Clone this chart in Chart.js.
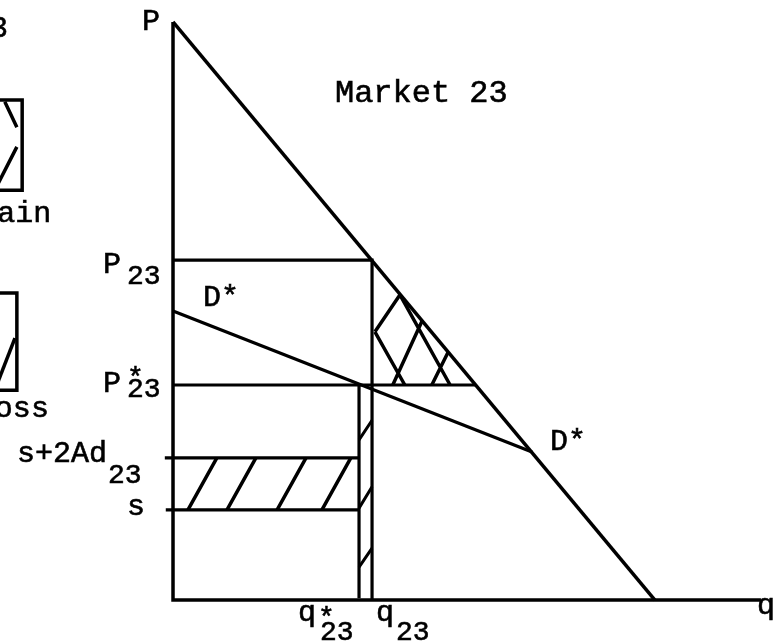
<!DOCTYPE html>
<html>
<head>
<meta charset="utf-8">
<script src="https://cdn.jsdelivr.net/npm/chart.js@4.4.0/dist/chart.umd.min.js"></script>
<style>
    html, body { margin: 0; padding: 0; background: #fff; }
    canvas { display: block; }
</style>
</head>
<body>
<canvas id="market" width="773" height="644"></canvas>
<script>
// Market 23 - demand curve, D* and the gain / loss areas

// curves (q, P)
const demandQ = [0, 100];
const demandP = [100, 0];
const dStarQ = [0, 74.5];
const dStarP = [50, 25.6];
const axisQEnd = 122;
const axisPEnd = 100;

// levels
const q23 = 41.3, p23 = 58.8;
const qStar = 38.6, pStar = 37.2;
const sLevel = 15.6, s2AdLevel = 24.6;
const pStarDemandQ = 62.8;

// hatching: loss rectangle (start q on the s line), strip between q* and q23, gain triangle
const lossHatchQ = [3.1, 11.2, 21.6, 30.9];
const lossHatchShift = 6.0;
const stripHatchLowP = [5.7, 15.9, 27.7];
const stripHatchHighP = [9.0, 19.6, 31.1];
const gainHatch = [
    [41.9, 46.4, 47.1, 52.8],
    [41.9, 46.4, 48.1, 37.2],
    [47.1, 52.8, 57.5, 37.2],
    [45.6, 37.2, 51.7, 48.3],
    [53.7, 37.2, 57.1, 42.9]
];

// the cut off key on the left side
const gainBox = [[-37, 86.5], [-31.3, 86.5], [-31.3, 70.9], [-37, 70.9]];
const gainBoxHatch = [[-34.9, 86.2, -32.4, 81.8], [-37, 70.9, -32.4, 78.4]];
const lossBox = [[-37, 53.1], [-32.4, 53.1], [-32.4, 36.3], [-37, 36.3]];
const lossBoxHatch = [[-37, 36.3, -32.8, 45.3]];

const INK = '#000';

function path(points, width) {
    return {
        data: points.map(p => ({ x: p[0], y: p[1] })),
        showLine: true,
        borderColor: INK,
        borderWidth: width || 3,
        pointRadius: 0,
        fill: false,
        tension: 0
    };
}

function segs(list, width) {
    const data = [];
    list.forEach((s, i) => {
        if (i) data.push({ x: null, y: null });
        data.push({ x: s[0], y: s[1] }, { x: s[2], y: s[3] });
    });
    return {
        data: data,
        showLine: true,
        spanGaps: false,
        borderColor: INK,
        borderWidth: width || 3,
        pointRadius: 0,
        fill: false
    };
}

const datasets = [
    path([[0, axisPEnd], [0, 0], [axisQEnd, 0]], 3.5),
    path(demandQ.map((q, i) => [q, demandP[i]]), 3.5),
    path(dStarQ.map((q, i) => [q, dStarP[i]]), 3.2),
    path([[0, p23], [q23, p23], [q23, 0]], 3.2),
    path([[0, pStar], [pStarDemandQ, pStar]], 3.2),
    path([[qStar, pStar], [qStar, 0.3]], 3.2),
    path([[-1.7, s2AdLevel], [qStar, s2AdLevel]], 3.2),
    path([[-1.5, sLevel], [qStar, sLevel]], 3.2),
    segs(lossHatchQ.map(q => [q, sLevel, q + lossHatchShift, s2AdLevel]), 3.5),
    segs(stripHatchLowP.map((p, i) => [qStar, p, q23, stripHatchHighP[i]]), 3),
    segs(gainHatch, 3.5),
    path(gainBox, 3.5),
    segs(gainBoxHatch, 3.5),
    path(lossBox, 3.5),
    segs(lossBoxHatch, 3.5)
];

// text labels, anchored at data points
const labels = [
    { text: 'P', q: 0, p: axisPEnd, dx: -31, dy: 8 },
    { text: 'Market 23', q: 33.6, p: 86.2, dx: 0, dy: 0, size: 32 },
    { text: 'P', sub: '23', q: 0, p: p23, dx: -70, dy: 13, subDx: -46, subDy: 24 },
    { text: 'P', sub: '23', sup: '*', q: 0, p: pStar, dx: -70, dy: 7, subDx: -46, subDy: 12, supDx: -46, supDy: 1 },
    { text: 'D*', q: dStarQ[0], p: dStarP[0], dx: 30, dy: -5 },
    { text: 'D*', q: dStarQ[1], p: dStarP[1], dx: 18, dy: -2 },
    { text: 's+2Ad', sub: '23', q: 0, p: s2AdLevel, right: -66, dy: 4, subDx: -65, subDy: 25 },
    { text: 's', q: 0, p: sLevel, dx: -46, dy: 5 },
    { text: 'q', sub: '23', sup: '*', q: qStar, p: 0, dx: -61, dy: 21, subDx: -39, subDy: 40, supDx: -41, supDy: 26 },
    { text: 'q', sub: '23', q: q23, p: 0, dx: 4, dy: 21, subDx: 24, subDy: 40 },
    { text: 'q', q: axisQEnd, p: 0, dx: -4, dy: 14 },
    { text: '3', q: -38, p: 97.4, dx: 0, dy: 0 },
    { text: 'Gain', q: -40.2, p: 65.4, dx: 0, dy: 0 },
    { text: 'Loss', q: -40.7, p: 31.7, dx: 0, dy: 0 }
];

const FONT = '"Liberation Mono", "Courier New", monospace';

const labelPlugin = {
    id: 'labels',
    afterDatasetsDraw(chart) {
        const ctx = chart.ctx;
        const xs = chart.scales.x, ys = chart.scales.y;
        ctx.save();
        ctx.fillStyle = INK;
        ctx.strokeStyle = INK;
        ctx.lineWidth = 0.6;
        ctx.textBaseline = 'alphabetic';
        ctx.textAlign = 'left';
        const put = (t, x, y) => { ctx.fillText(t, x, y); ctx.strokeText(t, x, y); };
        labels.forEach(l => {
            const ax = xs.getPixelForValue(l.q);
            const ay = ys.getPixelForValue(l.p);
            ctx.font = (l.size || 30) + 'px ' + FONT;
            let x = ax + (l.dx || 0);
            if (l.right !== undefined) x = ax + l.right - ctx.measureText(l.text).width;
            put(l.text, x, ay + l.dy);
            ctx.font = '28px ' + FONT;
            if (l.sub) put(l.sub, ax + l.subDx, ay + l.subDy);
            if (l.sup) put(l.sup, ax + l.supDx, ay + l.supDy);
        });
        ctx.restore();
    }
};

new Chart(document.getElementById('market'), {
    type: 'scatter',
    data: { datasets: datasets },
    options: {
        responsive: false,
        animation: false,
        layout: { padding: 0 },
        plugins: {
            legend: { display: false },
            tooltip: { enabled: false }
        },
        scales: {
            x: { type: 'linear', min: -35.9, max: 124.5, display: false },
            y: { type: 'linear', min: -7.6, max: 103.8, display: false }
        }
    },
    plugins: [labelPlugin]
});
</script>
</body>
</html>
